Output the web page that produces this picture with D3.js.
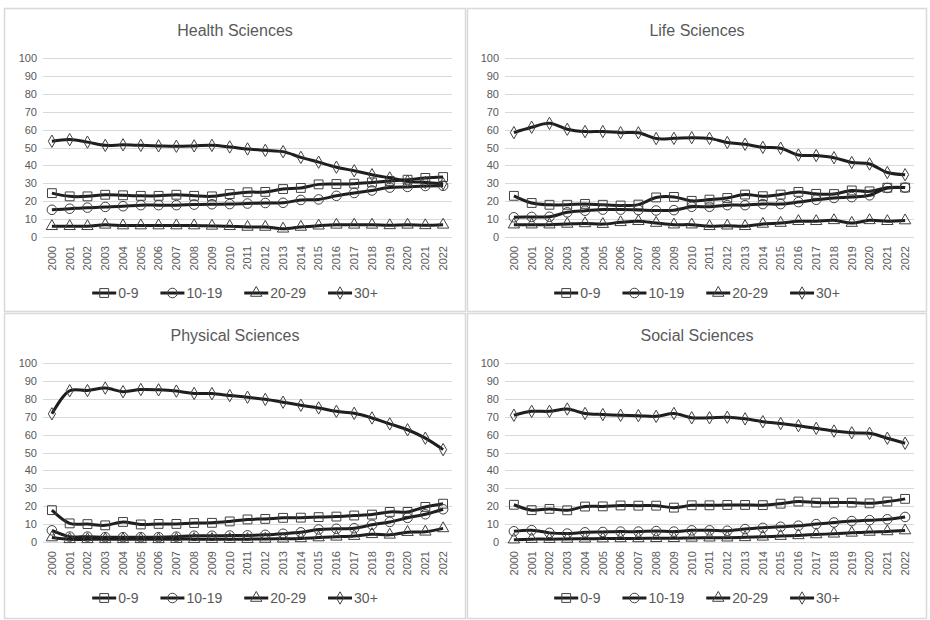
<!DOCTYPE html>
<html>
<head>
<meta charset="utf-8">
<script src="https://cdn.jsdelivr.net/npm/d3@7"></script>
<style>
  html, body { margin: 0; padding: 0; background: #fff; }
  svg { display: block; }
  text { font-family: "Liberation Sans Narrow", "Liberation Sans", "DejaVu Sans", sans-serif; fill: #595959; }
</style>
</head>
<body>
<svg id="chart" width="930" height="620"></svg>
<script>
// Year categories shared by every panel
const years = ["2000","2001","2002","2003","2004","2005","2006","2007","2008","2009","2010",
  "2011","2012","2013","2014","2015","2016","2017","2018","2019","2020","2021","2022"];

const ageGroups = ["0-9", "10-19", "20-29", "30+"];
const yTicks = [0, 10, 20, 30, 40, 50, 60, 70, 80, 90, 100];

// Health Sciences
const health0to9   = [24.5,22.7,22.7,23.6,23.3,23,23,23.6,23,22.7,24,25,25.2,26.8,27.4,29.4,29.6,29.8,30.5,31.3,32,33,33.5];
const health10to19 = [15.2,15.8,16.4,16.8,17.2,17.8,17.8,17.8,18.1,18.3,18.4,18.7,19,19.1,20.7,21,23,24.6,26,27.6,28,28.5,28.6];
const health20to29 = [6,6,6,6.8,6.4,6.4,6.4,6.4,6.4,6.2,6,5.6,5.6,4.6,5.6,6.3,6.8,6.8,6.8,6.5,6.8,6.5,6.8];
const health30plus = [53.5,54.4,53,51.2,51.5,51.2,50.9,50.7,50.9,51.2,50.3,49.2,48.4,47.7,44.5,41.8,39,37,34.8,33,31.2,30.5,29.8];

// Life Sciences
const life0to9   = [23,19,18,18,18.5,18,17.6,18.1,22.1,22.4,20.2,20.9,21.8,23.7,22.8,23.7,25.2,24.1,24,26,25.5,27.5,27.6];
const life10to19 = [11,11.2,11.3,13.8,14.7,15.3,15.3,15.1,14.8,15,16.9,16.9,17.8,17.8,18.4,18.4,19.5,20.8,21.8,22.3,23.3,27.4,27.6];
const life20to29 = [6.9,6.9,6.9,7.3,7.6,7.2,8.2,8.8,7.8,6.9,6.9,6,6.3,6,7.3,7.8,8.8,8.8,9.3,7.8,9.3,8.8,9.2];
const life30plus = [58.3,61.3,63.5,60.2,58.9,58.9,58.3,58.2,55,55.1,55.5,55.1,52.8,51.8,50.1,49.6,45.8,45.5,44.3,41.6,40.8,36,34.8];

// Physical Sciences
const phys0to9   = [17.8,10.4,10,9.3,11.2,9.8,10.1,10.1,10.6,10.7,11.5,12.6,12.9,13.5,13.6,13.9,14.2,14.8,15.3,16.8,16.8,19.6,21.4];
const phys10to19 = [6.5,3,3,2.7,2.7,2.7,2.7,3,3.5,3.5,3.6,3.7,4,4.6,5.4,7,7.4,7.7,9.6,11.2,13.5,15.5,18.3];
const phys20to29 = [2.5,1.5,1.5,1.5,1.5,1.5,1.5,1.6,1.6,1.6,1.6,1.6,1.7,1.8,2,2.5,2.9,3.3,4.3,4,5.5,5.7,7.6];
const phys30plus = [71.6,84.5,84.6,86,84,85.2,85,84.3,83,82.9,81.8,80.9,79.7,78.1,76.4,74.9,73,71.9,69.3,66,62.7,58,51.6];

// Social Sciences
const soc0to9   = [20.8,17.8,18.5,17.7,19.8,19.9,20.4,20.3,20.3,19.2,20.5,20.5,20.7,20.7,20.6,21.4,22.6,22,22,22,21.6,22.6,24.1];
const soc10to19 = [6,6.6,5.1,4.7,5.4,5.6,5.8,5.8,6.1,5.8,6.5,6.5,6.3,7.2,7.9,8.5,9.1,10,10.9,11.7,12.2,12.7,14];
const soc20to29 = [1.3,1.6,1.6,1.7,1.8,1.9,2,2,2.1,2.1,2.3,2.4,2.4,2.6,2.9,3.3,3.7,4.2,4.6,5.1,5.6,5.9,6.4];
const soc30plus = [70.8,73,73,74.3,71.8,71.2,70.8,70.6,70.2,71.8,69.4,69.4,69.7,68.8,67.2,66.2,65,63.5,62,61,60.7,58,55.2];

const panels = [
  { title: "Health Sciences",   series: [health0to9, health10to19, health20to29, health30plus], col: 0, row: 0 },
  { title: "Life Sciences",     series: [life0to9, life10to19, life20to29, life30plus],         col: 1, row: 0 },
  { title: "Physical Sciences", series: [phys0to9, phys10to19, phys20to29, phys30plus],         col: 0, row: 1 },
  { title: "Social Sciences",   series: [soc0to9, soc10to19, soc20to29, soc30plus],             col: 1, row: 1 }
];

const markerShapes = [d3.symbolSquare, d3.symbolCircle, d3.symbolTriangle, d3.symbolDiamond];
const markerSizes  = [78, 72, 56, 44];

const svg = d3.select("#chart");

// Panel frames
const frameX = [[4, 466], [467, 927]];
const frameY = [[8, 312], [313, 619]];

panels.forEach(p => {
  const [fx0, fx1] = frameX[p.col];
  const [fy0, fy1] = frameY[p.row];
  const g = svg.append("g");

  g.append("rect")
    .attr("x", fx0 + 0.5).attr("y", fy0 + 0.5)
    .attr("width", fx1 - fx0 - 1).attr("height", fy1 - fy0 - 1)
    .attr("fill", "#fff").attr("stroke", "#d9d9d9").attr("stroke-width", 1.5);

  const cx = (fx0 + fx1) / 2;
  g.append("text")
    .attr("x", cx).attr("y", fy0 + 28)
    .attr("text-anchor", "middle")
    .attr("font-size", 16)
    .text(p.title);

  const plotLeft = p.col === 0 ? 43 : 505;
  const plotRight = plotLeft + 409;
  const plotTop = fy0 + 50;
  const plotBottom = fy0 + 229;

  const x = d3.scaleBand().domain(years).range([plotLeft, plotRight]);
  const y = d3.scaleLinear().domain([0, 100]).range([plotBottom, plotTop]);
  const xc = d => x(d) + x.bandwidth() / 2;

  // Horizontal gridlines
  g.append("g").selectAll("line").data(yTicks).join("line")
    .attr("x1", plotLeft).attr("x2", plotRight)
    .attr("y1", d => Math.round(y(d)) + 0.5).attr("y2", d => Math.round(y(d)) + 0.5)
    .attr("stroke", "#d9d9d9").attr("stroke-width", 1);

  // Y axis tick labels
  const yAxis = d3.axisLeft(y).tickValues(yTicks).tickSize(0).tickPadding(6);
  const ya = g.append("g").attr("transform", `translate(${plotLeft},0)`).call(yAxis);
  ya.select(".domain").remove();
  ya.selectAll("text").attr("font-size", 11).attr("fill", "#595959")
    .style("font-family", "Liberation Sans Narrow, Liberation Sans, sans-serif");

  // X axis year labels, rotated
  const xAxis = d3.axisBottom(x).tickSize(0).tickPadding(0);
  const xa = g.append("g").attr("transform", `translate(0,${plotBottom})`).call(xAxis);
  xa.select(".domain").remove();
  xa.selectAll("text")
    .attr("font-size", 11).attr("fill", "#595959")
    .style("font-family", "Liberation Sans Narrow, Liberation Sans, sans-serif")
    .attr("text-anchor", "end")
    .attr("dy", "0.35em")
    .attr("transform", "translate(0,9) rotate(-90)")
    .attr("x", 0).attr("y", 0);

  // Smoothed series lines
  const line = d3.line().x((d, i) => xc(years[i])).y(d => y(d)).curve(d3.curveCatmullRom.alpha(0.5));

  p.series.forEach((vals, si) => {
    g.append("path")
      .attr("d", line(vals))
      .attr("fill", "none").attr("stroke", "#1e1e1e").attr("stroke-width", 3)
      .attr("stroke-linejoin", "round");
    g.append("g").selectAll("path").data(vals).join("path")
      .attr("transform", (d, i) => `translate(${xc(years[i])},${y(d)})`)
      .attr("d", d3.symbol().type(markerShapes[si]).size(markerSizes[si]))
      .attr("fill", "none").attr("stroke", "#404040").attr("stroke-width", 1);
  });

  // Legend
  const lg = g.append("g");
  const legendY = fy0 + 285;
  let cursor = 0;
  const items = [];
  ageGroups.forEach((name, si) => {
    const it = lg.append("g").attr("transform", `translate(${cursor},0)`);
    it.append("line").attr("x1", 0).attr("x2", 24).attr("y1", 0).attr("y2", 0)
      .attr("stroke", "#1e1e1e").attr("stroke-width", 3);
    it.append("path").attr("transform", "translate(12,0)")
      .attr("d", d3.symbol().type(markerShapes[si]).size(markerSizes[si]))
      .attr("fill", "none").attr("stroke", "#404040").attr("stroke-width", 1);
    const t = it.append("text").attr("x", 26).attr("y", 0).attr("dy", "0.35em")
      .attr("font-size", 14).text(name);
    cursor += 26 + t.node().getComputedTextLength() + 22;
    items.push(it);
  });
  const total = cursor - 22;
  lg.attr("transform", `translate(${cx - total / 2},${legendY})`);
});
</script>
</body>
</html>
